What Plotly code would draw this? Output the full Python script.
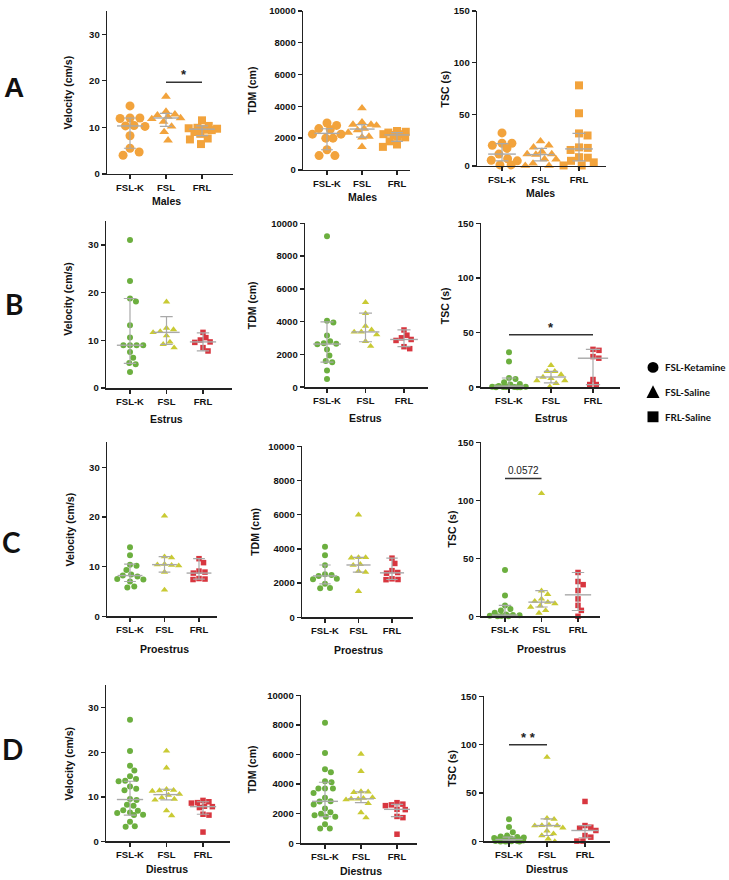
import numpy as np
import plotly.graph_objects as go

W, H = 729, 880
groups = ["FSL-K", "FSL", "FRL"]
symbols = ["circle", "triangle-up", "square"]

# ---------------- data ----------------
# Males (row A)
vel_m_fslk = [14.6, 12.0, 12.0, 11.9, 10.4, 10.3, 10.2, 8.2, 5.5, 4.7, 4.0]
vel_m_fsl = [16.6, 13.4, 12.8, 12.6, 12.3, 12.0, 11.8, 11.2, 10.2, 9.0, 7.2]
vel_m_frl = [11.5, 10.3, 9.9, 9.8, 9.7, 9.6, 9.5, 9.4, 9.0, 8.6, 7.6, 7.4, 6.4]
tdm_m_fslk = [2950, 2800, 2600, 2550, 2250, 2250, 2000, 2000, 1270, 900, 900]
tdm_m_fsl = [3880, 3000, 2850, 2850, 2800, 2600, 2500, 2350, 2100, 2050, 1450]
tdm_m_frl = [2450, 2400, 2350, 2300, 2250, 2250, 2200, 2100, 2050, 1800, 1800, 1600, 1450]
tsc_m_fslk = [32, 22, 22, 20, 17, 11.5, 7, 5.5, 5, 1, 1]
tsc_m_fsl = [24, 20, 18, 14, 11.5, 11.5, 11, 6.7, 6.5, 2.5, 0.3, 0.3]
tsc_m_frl = [78, 51, 31.5, 29.5, 18, 17.5, 15.5, 8.5, 8, 5, 3.5, 0.5, 0.5]

# Estrus (row B)
vel_e_fslk = [31.1, 22.5, 18.8, 18.2, 13.2, 10.6, 9.0, 9.0, 9.0, 9.0, 7.6, 6.4, 5.3, 5.0, 3.4]
vel_e_fsl = [18.1, 12.6, 12.3, 11.9, 11.7, 11.0, 9.7, 9.2, 8.5]
vel_e_frl = [11.7, 10.6, 10.1, 9.7, 9.6, 8.5, 7.8]
tdm_e_fslk = [9200, 4050, 3950, 3150, 2800, 2680, 2650, 2620, 2300, 1930, 1600, 1520, 1020, 500]
tdm_e_fsl = [5180, 4500, 3730, 3500, 3380, 3370, 3200, 2800, 2500]
tdm_e_frl = [3490, 3170, 3010, 2910, 2850, 2470, 2350]
tsc_e_fslk = [32, 23.5, 8.5, 7.5, 4.5, 3.0, 2.5, 1.0, 0.5, 0.3, 0.2, 0.2, 0.1, 0.0, 0.0, 0.0]
tsc_e_fsl = [20, 14.5, 14.5, 11.5, 9.3, 8, 6, 6, 3.5, 0.5]
tsc_e_frl = [34.6, 33.7, 28, 26.5, 7, 2.4, 2.4]

# Proestrus (row C)
vel_p_fslk = [13.9, 12.3, 10.4, 10.2, 9.3, 8.4, 8.2, 8.0, 7.5, 7.4, 7.0, 6.0, 5.8]
vel_p_fsl = [20.2, 12.0, 11.8, 10.5, 10.4, 10.3, 10.2, 8.9, 5.3]
vel_p_frl = [11.6, 10.8, 9.1, 8.9, 8.7, 7.6, 7.5, 7.4]
tdm_p_fslk = [4130, 3630, 3050, 2520, 2480, 2420, 2250, 2220, 1960, 1710, 1700]
tdm_p_fsl = [6000, 3500, 3500, 3480, 3100, 3050, 2700, 2640, 1520]
tdm_p_frl = [3460, 3150, 2730, 2620, 2580, 2250, 2210, 2200]
tsc_p_fslk = [40, 18, 9.4, 6.2, 5.0, 3.0, 1.5, 1.0, 0.8, 0.5, 0.3, 0.0, 0.0]
tsc_p_fsl = [106, 22, 19, 15, 13, 12.2, 11, 9, 8, 5, 2.8]
tsc_p_frl = [37.8, 30, 27.3, 22.2, 15, 9.4, 5.1, 0.0]

# Diestrus (row D)
vel_d_fslk = [27.3, 20.3, 17.0, 15.9, 14.6, 14.0, 13.6, 13.5, 12.3, 11.8, 11.5, 9.5,
              9.3, 8.2, 8.0, 7.0, 6.9, 6.5, 6.4, 6.0, 5.9, 4.4, 3.4, 3.3]
vel_d_fsl = [20.3, 16.5, 11.7, 11.5, 11.4, 11.3, 10.6, 10.4, 9.8, 9.5, 9.3, 6.9, 5.8]
vel_d_frl = [9.2, 8.9, 8.7, 8.6, 7.9, 7.8, 7.6, 6.1, 5.9, 2.1]
tdm_d_fslk = [8150, 6100, 5000, 4800, 4200, 4130, 3700, 3700, 3700, 3400, 3080, 2850,
              2830, 2630, 2350, 2100, 2000, 1900, 1800, 1800, 1300, 1000, 1000]
tdm_d_fsl = [6030, 4870, 3500, 3480, 3450, 3100, 3050, 3010, 3000, 2950, 2700, 2080, 1740]
tdm_d_frl = [2750, 2650, 2600, 2550, 2300, 2280, 1820, 1740, 620]
tsc_d_fslk = [23, 15, 9.5, 6, 5, 4.5, 4, 3.5, 3, 3, 2.5, 2, 2, 1.5, 1.5, 1, 1, 0.5, 0.5,
              0.3, 0.2, 0, 0, 0]
tsc_d_fsl = [87, 24, 23, 17, 16.5, 16.4, 16.3, 14, 11, 8, 6, 2.7, 0]
tsc_d_frl = [41.3, 16.4, 14.7, 13.6, 11.3, 6.1, 4.4, 0.3, 0.3]

# median / interquartile range bars, per group [FSL-K, FSL, FRL]
med_vel_m, q1_vel_m, q3_vel_m = [10.3, 12.0, 9.6], [5.5, 10.2, 8.2], [12.0, 13.0, 10.3]
med_tdm_m, q1_tdm_m, q3_tdm_m = [2300, 2570, 2200], [1270, 2060, 1800], [2590, 2850, 2350]
med_tsc_m, q1_tsc_m, q3_tsc_m = [11.5, 11.0, 16.5], [5.0, 5.0, 5.0], [21.7, 17.0, 31.5]
med_vel_e, q1_vel_e, q3_vel_e = [9.0, 11.7, 9.7], [5.2, 9.2, 7.8], [18.8, 15.0, 11.6]
med_tdm_e, q1_tdm_e, q3_tdm_e = [2630, 3370, 2910], [1530, 2770, 2470], [3980, 4520, 3490]
med_tsc_e, q1_tsc_e, q3_tsc_e = [1.0, 9.3, 26.5], [0.0, 3.9, 2.4], [8.4, 14.5, 34.6]
med_vel_p, q1_vel_p, q3_vel_p = [8.2, 10.4, 8.7], [7.0, 8.9, 7.5], [10.5, 12.0, 11.6]
med_tdm_p, q1_tdm_p, q3_tdm_p = [2420, 3060, 2600], [1960, 2640, 2210], [3060, 3500, 3460]
med_tsc_p, q1_tsc_p, q3_tsc_p = [1.0, 12.2, 18.5], [0.0, 8.0, 5.0], [9.4, 22.2, 37.8]
med_vel_d, q1_vel_d, q3_vel_d = [9.4, 10.5, 7.8], [5.9, 9.3, 6.1], [13.5, 11.7, 8.9]
med_tdm_d, q1_tdm_d, q3_tdm_d = [2840, 3010, 2300], [1800, 2750, 1810], [4130, 3480, 2630]
med_tsc_d, q1_tsc_d, q3_tsc_d = [2.0, 16.4, 11.3], [0.5, 6.1, 3.8], [4.4, 23.2, 16.4]

row_labels = ["A", "B", "C", "D"]
row_titles = ["Males", "Estrus", "Proestrus", "Diestrus"]
y_titles = ["Velocity (cm/s)", "TDM (cm)", "TSC (s)"]
y_max = [35, 10000, 150]
y_ticks = [[0, 10, 20, 30], [0, 2000, 4000, 6000, 8000, 10000], [0, 50, 100, 150]]
legend_labels = ["FSL-Ketamine", "FSL-Saline", "FRL-Saline"]

# significance: panel index, from group, to group, bar value, label
sig_panels = [0, 5, 8, 11]
sig_from = [1, 0, 0, 0]
sig_to = [2, 2, 1, 1]
sig_level = [19.7, 47.9, 119, 100]
sig_text = ["*", "*", "0.0572", "* *"]

# ---------------- layout geometry (pixels) ----------------
# left, right, top, bottom, centre of first category, category spacing
boxes = [
    (107, 233, 5, 170, 130, 36), (303, 410, 5, 166, 327, 35), (477, 606, 5, 162, 502, 38.5),
    (106, 232, 218, 387, 130, 36.5), (305, 428, 220, 386, 327, 38.5), (481, 620, 220, 386, 509, 42),
    (107, 217, 442, 618, 130, 34.5), (302, 413, 446, 619, 325, 33.5), (481, 600, 442, 618, 505, 36.5),
    (106, 230, 688, 846, 130, 36.5), (301, 417, 698, 848, 325, 36), (484, 610, 699, 846, 509, 38),
]
ytitle_x = [[68, 252, 445], [68, 252, 445], [70, 255, 452], [69, 252, 452]]
xtitle_dy = [27, 31, 33, 28]
letter_pos = [(14, 83), (14, 302), (11, 543), (12, 752)]

data_rows = [
    [(vel_m_fslk, vel_m_fsl, vel_m_frl), (tdm_m_fslk, tdm_m_fsl, tdm_m_frl), (tsc_m_fslk, tsc_m_fsl, tsc_m_frl)],
    [(vel_e_fslk, vel_e_fsl, vel_e_frl), (tdm_e_fslk, tdm_e_fsl, tdm_e_frl), (tsc_e_fslk, tsc_e_fsl, tsc_e_frl)],
    [(vel_p_fslk, vel_p_fsl, vel_p_frl), (tdm_p_fslk, tdm_p_fsl, tdm_p_frl), (tsc_p_fslk, tsc_p_fsl, tsc_p_frl)],
    [(vel_d_fslk, vel_d_fsl, vel_d_frl), (tdm_d_fslk, tdm_d_fsl, tdm_d_frl), (tsc_d_fslk, tsc_d_fsl, tsc_d_frl)],
]
stat_rows = [
    [(med_vel_m, q1_vel_m, q3_vel_m), (med_tdm_m, q1_tdm_m, q3_tdm_m), (med_tsc_m, q1_tsc_m, q3_tsc_m)],
    [(med_vel_e, q1_vel_e, q3_vel_e), (med_tdm_e, q1_tdm_e, q3_tdm_e), (med_tsc_e, q1_tsc_e, q3_tsc_e)],
    [(med_vel_p, q1_vel_p, q3_vel_p), (med_tdm_p, q1_tdm_p, q3_tdm_p), (med_tsc_p, q1_tsc_p, q3_tsc_p)],
    [(med_vel_d, q1_vel_d, q3_vel_d), (med_tdm_d, q1_tdm_d, q3_tdm_d), (med_tsc_d, q1_tsc_d, q3_tsc_d)],
]

male_color = "#F2A33C"
female_colors = ["#6CAF3F", "#C9CA34", "#D8363F"]
grey = "#A9A9A9"
axis_col = "#222222"
FONT = "Liberation Sans, Arial, sans-serif"
LEG_FONT = "Lato, Carlito, sans-serif"
male_sizes = [9, 8.5, 8]
female_sizes = [6, 6.5, 5.5]


def swarm(vals, ppu, d, s):
    """Collision-based beeswarm; returns horizontal offsets in category units."""
    vals = np.asarray(vals, dtype=float)
    ys = vals * ppu
    order = np.argsort(-vals, kind="stable")
    half = 0.42 * s
    px_list, py_list = [], []
    offs = np.zeros(len(vals))
    for idx in order:
        y = ys[idx]
        best = None
        for f in [1.1, 0.95, 0.8, 0.65, 0.5, 0.35, 0.0]:
            de = d * f
            cands = [0.0]
            for qx, qy in zip(px_list, py_list):
                dy = abs(qy - y)
                if dy < de:
                    dx = np.sqrt(de * de - dy * dy)
                    cands += [qx + dx, qx - dx]
            cands.sort(key=lambda v: (round(abs(v), 6), -v))
            for cx in cands:
                if abs(cx) > half + 1e-9:
                    continue
                if all((cx - qx) ** 2 + (y - qy) ** 2 >= de * de - 1e-6
                       for qx, qy in zip(px_list, py_list)):
                    best = cx
                    break
            if best is not None:
                break
        if best is None:
            best = 0.0
        px_list.append(best)
        py_list.append(y)
        offs[idx] = best / s
    return offs


fig = go.Figure()
layout = dict(width=W, height=H, margin=dict(l=0, r=0, t=0, b=0),
              paper_bgcolor="white", plot_bgcolor="white", showlegend=False)
annotations, shapes = [], []

for r in range(4):
    for c in range(3):
        p = r * 3 + c
        n = p + 1
        left, right, top, bottom, c0, s = boxes[p]
        xa = "x" if n == 1 else f"x{n}"
        ya = "y" if n == 1 else f"y{n}"
        ppu = (bottom - top) / y_max[c]
        layout["xaxis" if n == 1 else f"xaxis{n}"] = dict(
            domain=[left / W, right / W], anchor=ya,
            range=[(left - c0) / s, (right - c0) / s],
            tickvals=[0, 1, 2], ticktext=groups, ticks="outside", ticklen=4, tickwidth=1.4,
            tickcolor=axis_col, showline=True, linecolor=axis_col, linewidth=1.4,
            showgrid=False, zeroline=False,
            tickfont=dict(family=FONT, size=9.5, color="#111", weight="bold"))
        layout["yaxis" if n == 1 else f"yaxis{n}"] = dict(
            domain=[1 - bottom / H, 1 - top / H], anchor=xa, range=[0, y_max[c]],
            tickvals=y_ticks[c], tickformat="d", ticks="outside", ticklen=4, tickwidth=1.4,
            tickcolor=axis_col, showline=True, linecolor=axis_col, linewidth=1.4,
            showgrid=False, zeroline=False,
            tickfont=dict(family=FONT, size=9.5, color="#111", weight="bold"))

        big = r == 0
        for g in range(3):
            vals = data_rows[r][c][g]
            col = male_color if big else female_colors[g]
            msize = male_sizes[g] if big else female_sizes[g]
            offs = swarm(vals, ppu, msize, s)
            fig.add_trace(go.Scatter(
                x=g + offs, y=vals, mode="markers", xaxis=xa, yaxis=ya, cliponaxis=False,
                marker=dict(symbol=symbols[g], size=msize, color=col, line=dict(width=0)),
                hoverinfo="skip"))
        for g in range(3):
            med, q1, q3 = stat_rows[r][c][0][g], stat_rows[r][c][1][g], stat_rows[r][c][2][g]
            fig.add_trace(go.Scatter(
                x=[g], y=[med], mode="markers", xaxis=xa, yaxis=ya, cliponaxis=False,
                marker=dict(symbol="line-ew", size=0.72 * s / 1.4, color=grey,
                            line=dict(width=1.4, color=grey)),
                error_y=dict(type="data", symmetric=False, array=[q3 - med],
                             arrayminus=[med - q1], width=0.17 * s, thickness=1.2, color=grey),
                hoverinfo="skip"))

        # y-axis title
        annotations.append(dict(
            x=ytitle_x[r][c] / W, y=1 - ((top + bottom) / 2 - (6 if p == 3 else 0)) / H,
            xref="paper", yref="paper", text=y_titles[c], textangle=-90, showarrow=False,
            xanchor="center", yanchor="middle",
            font=dict(family=FONT, size=10.5, color="#111", weight="bold")))
        # x group title
        annotations.append(dict(
            x=1, y=1 - (bottom + xtitle_dy[r]) / H, xref=xa, yref="paper", text=row_titles[r],
            showarrow=False, xanchor="center", yanchor="middle",
            font=dict(family=FONT, size=10.5, color="#111", weight="bold")))

    lx, ly = letter_pos[r]
    annotations.append(dict(
        x=lx / W, y=1 - ly / H, xref="paper", yref="paper", text=row_labels[r], showarrow=False,
        xanchor="center", yanchor="middle",
        font=dict(family=FONT if r == 0 else LEG_FONT, size=28, color="#111", weight="bold")))

# significance bars
for k in range(len(sig_panels)):
    n = sig_panels[k] + 1
    xa = f"x{n}" if n > 1 else "x"
    ya = f"y{n}" if n > 1 else "y"
    shapes.append(dict(type="line", xref=xa, yref=ya, x0=sig_from[k], x1=sig_to[k],
                       y0=sig_level[k], y1=sig_level[k], line=dict(color="#333", width=1.5)))
    is_num = sig_text[k][0].isdigit()
    annotations.append(dict(
        x=(sig_from[k] + sig_to[k]) / 2, y=sig_level[k], xref=xa, yref=ya, text=sig_text[k],
        showarrow=False, xanchor="center", yanchor="bottom", yshift=0 if is_num else -2,
        font=dict(family=FONT, size=10 if is_num else 13, color="#222",
                  weight="normal" if is_num else "bold")))

# legend glyphs
leg_x, leg_y = 653, [366, 391, 416]
shapes.append(dict(type="circle", xref="paper", yref="paper",
                   x0=(leg_x - 5.5) / W, x1=(leg_x + 5.5) / W,
                   y0=1 - (leg_y[0] + 5.5) / H, y1=1 - (leg_y[0] - 5.5) / H,
                   fillcolor="black", line=dict(width=0)))
shapes.append(dict(type="path", xref="paper", yref="paper",
                   path=f"M {(leg_x - 6.5) / W},{1 - (leg_y[1] + 6) / H} "
                        f"L {(leg_x + 6.5) / W},{1 - (leg_y[1] + 6) / H} "
                        f"L {leg_x / W},{1 - (leg_y[1] - 7) / H} Z",
                   fillcolor="black", line=dict(width=0)))
shapes.append(dict(type="rect", xref="paper", yref="paper",
                   x0=(leg_x - 5.5) / W, x1=(leg_x + 5.5) / W,
                   y0=1 - (leg_y[2] + 5.5) / H, y1=1 - (leg_y[2] - 5.5) / H,
                   fillcolor="black", line=dict(width=0)))
for i, lab in enumerate(legend_labels):
    annotations.append(dict(
        x=(leg_x + 10) / W, y=1 - leg_y[i] / H, xref="paper", yref="paper", text=lab,
        showarrow=False, xanchor="left", yanchor="middle",
        font=dict(family=LEG_FONT, size=9.8, color="#111", weight="bold")))

layout["annotations"] = annotations
layout["shapes"] = shapes
fig.update_layout(**layout)
fig.write_html("out.html", config={"displayModeBar": False, "staticPlot": True},
               post_script="document.body.style.margin='0';document.body.style.overflow='hidden';")
